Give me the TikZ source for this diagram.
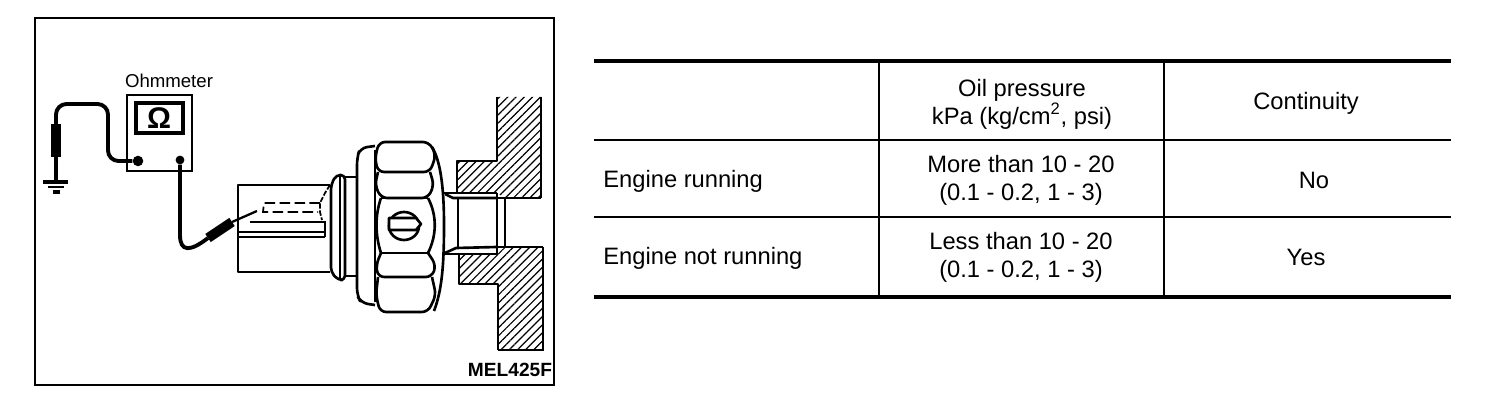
\documentclass[tikz,border=0pt]{standalone}
\usepackage{fontspec}
\setmainfont{Liberation Sans}
\usetikzlibrary{patterns.meta}
\begin{document}
\begin{tikzpicture}[
    x=0.02cm, y=-0.02cm,
    cell/.style={align=center, inner sep=0pt, font=\fontsize{13.5}{15.9}\selectfont},
    rowhead/.style={cell, anchor=west},
    heavy/.style={line width=2.3pt},
    rule/.style={line width=1.7pt},
    part/.style={draw, line width=1.5pt, line join=round},
    thin part/.style={draw, line width=1pt},
    facet/.style={part, rounded corners=3.5pt},
    cable/.style={draw, line width=2.2pt, rounded corners=6pt},
    grip/.style={draw, line width=5.6pt},
    hatching/.style={pattern={Lines[angle=45, distance=3.3pt, line width=0.7pt]}}
]
    \useasboundingbox (0,0) rectangle (1504,408);

    % Picture frame
    \draw[line width=1.2pt] (35,18) rectangle (554,385);
    \node[inner sep=0pt, font=\fontsize{10.9}{12}\selectfont\bfseries] (code) at (510,370) {MEL425F};

    % Ohmmeter
    \node[inner sep=0pt, font=\fontsize{10.6}{12}\selectfont] (title) at (169,81) {Ohmmeter};
    \draw[line width=1.7pt] (127,95) rectangle (192,171);
    \draw[line width=2.3pt] (136,103) rectangle (183,133);
    \node[inner sep=0pt, font=\fontsize{17}{18}\selectfont\bfseries] (omega) at (159,118) {Ω};
    \node[circle, fill, inner sep=0pt, minimum size=6pt] (left) at (138,161) {};
    \node[circle, fill, inner sep=0pt, minimum size=5pt] (right) at (180,160) {};

    % Ground side
    \coordinate (earth) at (56,182);
    \draw[cable] (left) -- (108,161) -- (108,104) -- (56,104) -- (earth);
    \draw[grip] (56,124) -- (56,157);
    \draw[line width=1.8pt] (43,182) -- (68,182);
    \draw[line width=1.5pt] (48,187) -- (64,187);
    \draw[line width=2pt] (53,192) -- (60,192);

    % Probe
    \coordinate (handle) at (208,238);
    \coordinate (tip) at (257,211);
    \draw[line width=2.2pt] (right) -- (180,235) .. controls (180,252) and (190,252) .. (handle);
    \draw[grip] (handle) -- (232,222);
    \draw[line width=1.3pt] (232,222) -- (tip);

    % Connector
    \draw[part] (330,185) -- (238,185) -- (238,272) -- (330,272);
    \draw[thin part] (250,222) -- (325,222) -- (325,237);
    \draw[thin part] (238,232) -- (325,232);
    \draw[part] (238,237) -- (325,237);
    \draw[thin part, dash pattern=on 6pt off 2.5pt] (320,203) -- (264,203) -- (263,212) -- (318,212);
    \draw[thin part, dash pattern=on 3pt off 1pt] (330,185) -- (325,193) -- (320,203) -- (320,212) -- (322,220);
    \draw[part, rounded corners=2.5pt] (345,175) -- (336,175) -- (331,185) -- (331,272) -- (338,280) -- (345,280) -- cycle;
    \draw[thin part] (340,175) -- (340,280);
    \draw[part] (345,177) -- (357,177) (345,276) -- (357,276);

    % Flange
    \draw[part, rounded corners=4pt] (375,146) -- (360,148) -- (357,158) -- (357,295) -- (361,303) -- (375,305);
    \draw[part] (375,150) -- (375,302);

    % Hexagon body
    \draw[facet] (378,172) -- (375,158) -- (379,142) -- (429,142) -- (436,155) -- (430,172) -- cycle;
    \draw[facet] (378,172) -- (375,185) -- (381,198) -- (428,198) -- (434,185) -- (430,172);
    \draw[facet] (381,253) -- (376,265) -- (378,277) -- (432,277) -- (436,265) -- (428,253);
    \draw[facet] (378,277) -- (376,295) -- (380,312) -- (428,312) -- (436,295) -- (432,277);
    \draw[part] (381,198) -- (428,198) (381,253) -- (428,253);
    \draw[part] (381,198) .. controls (375,215) and (375,235) .. (381,253);
    \draw[part] (428,198) .. controls (437,215) and (437,235) .. (428,253);
    \draw[part] (432,147) .. controls (440,160) and (444,185) .. (444,225) .. controls (444,265) and (442,290) .. (434,311);

    % Screw
    \draw[part] (404,226) ellipse [x radius=15, y radius=14];
    \draw[part, fill=white] (389,218) -- (416,218) -- (421,224) -- (416,230) -- (389,230) -- cycle;

    % Thread
    \draw[part] (444,193) -- (457,193) (444,254) -- (497,254);
    \draw[part] (445,194) -- (453,198) -- (497,198) (445,253) -- (456,248) -- (497,247);
    \draw[thin part] (458,198) -- (458,248);
    \draw[part] (497,193) -- (497,254);
    \draw[part] (497,198) -- (505,198) -- (505,247) -- (497,247);

    % Walls
    \fill[hatching] (497,97) -- (541,97) -- (541,198) -- (505,198) -- (497,193) -- (457,193) -- (457,161) -- (497,161) -- cycle;
    \draw[part] (497,97) -- (497,161) -- (457,161) -- (457,193) -- (497,193) (505,198) -- (541,198);
    \draw[thin part] (541,97) -- (541,198);
    \fill[hatching] (505,247) -- (543,247) -- (543,350) -- (498,350) -- (498,284) -- (459,284) -- (459,254) -- (497,254) -- cycle;
    \draw[part] (497,254) -- (459,254) -- (459,284) -- (498,284) -- (498,350) (505,247) -- (543,247);
    \draw[thin part] (543,247) -- (543,350) -- (498,350);

    % Table rules
    \draw[heavy] (594,61) -- (1451,61);
    \draw[rule] (594,140) -- (1451,140);
    \draw[rule] (594,217) -- (1451,217);
    \draw[heavy] (594,297) -- (1451,297);
    \draw[line width=1.2pt] (879,61) -- (879,297);
    \draw[line width=1.2pt] (1164,61) -- (1164,297);

    % Table text
    \node[cell] (pressure) at (1022,104) {Oil pressure\\kPa (kg/cm\textsuperscript{2}, psi)};
    \node[cell] (continuity) at (1306,103) {Continuity};
    \node[rowhead] (running) at (603,181) {Engine running};
    \node[cell] (more) at (1021,180) {More than 10 - 20\\(0.1 - 0.2, 1 - 3)};
    \node[cell] (no) at (1314,180) {No};
    \node[rowhead] (stopped) at (603,258) {Engine not running};
    \node[cell] (less) at (1021,257) {Less than 10 - 20\\(0.1 - 0.2, 1 - 3)};
    \node[cell] (yes) at (1306,257) {Yes};
\end{tikzpicture}
\end{document}
